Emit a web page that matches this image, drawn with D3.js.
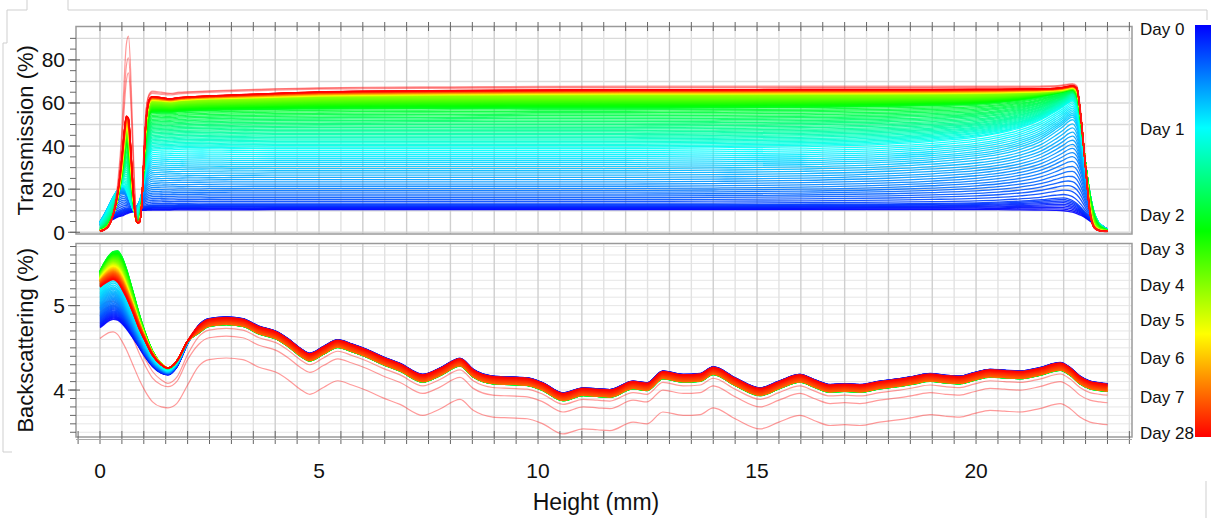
<!DOCTYPE html>
<html>
<head>
<meta charset="utf-8">
<script src="https://cdn.jsdelivr.net/npm/d3@7"></script>
<style>
    body { margin: 0; background: #fff; }
    svg { display: block; font-family: Arial, 'Liberation Sans', sans-serif; }
</style>
</head>
<body>
<div id="chart"></div>
<script>
// ---- colour bar (scan order) ----
const dayLabels = ['Day 0', 'Day 1', 'Day 2', 'Day 3', 'Day 4', 'Day 5', 'Day 6', 'Day 7', 'Day 28'];
const dayTickPos = [0.009, 0.252, 0.461, 0.544, 0.631, 0.716, 0.809, 0.902, 0.99];
const scanCount = 140;

// ---- transmission (%) vs height (mm) ----
const heightsT = [0, 0.1, 0.2, 0.3, 0.4, 0.5, 0.55, 0.6, 0.65, 0.7, 0.75, 0.8, 0.85, 0.9, 0.95, 1.0, 1.05, 1.1, 1.15, 1.2,
    1.4, 1.6, 1.8, 2.0, 2.5, 3, 4, 5, 6, 8, 10, 12, 14, 16, 18, 19, 20, 20.5, 21, 21.5, 21.8,
    22.0, 22.1, 22.2, 22.3, 22.4, 22.5, 22.6, 22.7, 22.8, 22.9, 23.0];

// key scans, position on the colour bar
const keyFracT = [0, 0.06, 0.12, 0.19, 0.26, 0.35, 0.46, 0.65, 1];
const trans0 = [3, 4, 5, 6, 7, 7.6, 8, 8.5, 8.9, 9.2, 9.5, 9.7, 9.9, 10, 10.1, 10.2, 10.2, 10.3, 10.3, 10.3,
    10.3, 10.3, 10.4, 10.4, 10.4, 10.4, 10.5, 10.5, 10.5, 10.5, 10.5, 10.5, 10.5, 10.5, 10.5, 10.5, 10.5, 10.5, 10.4, 10.3, 10.2,
    10, 9.7, 9.3, 8.7, 7.8, 6.6, 5.2, 3.9, 2.8, 1.8, 1.0];
const trans1 = [3.5, 5, 6.5, 8, 9.5, 10.5, 11, 11.3, 11.3, 11.1, 11, 11, 11.2, 11.5, 11.8, 12.1, 12.3, 12.5, 12.6, 12.7,
    12.8, 12.8, 12.9, 12.9, 13, 13, 13, 13, 13, 13, 13, 13, 13, 13.1, 13.3, 13.5, 13.8, 14.1, 14.6, 15.3, 16,
    16.2, 15.8, 15, 13.5, 11.5, 9.2, 7, 5, 3.4, 2.2, 1.2];
const trans2 = [4.5, 7.5, 10.5, 13.5, 16.5, 18, 18, 17, 15.5, 13.8, 12.5, 12, 12.5, 13.8, 15.5, 17, 18.2, 19, 19.3, 19.5,
    19.6, 19.7, 19.8, 19.8, 19.9, 20, 20, 20, 20, 20, 20, 20, 20.2, 20.6, 21.5, 22.3, 23.5, 24.5, 26, 28.5, 31,
    33, 34, 34.5, 33, 28, 20, 13, 7.5, 4.5, 2.8, 1.5];
const trans3 = [5, 8.5, 12.5, 16.5, 19.5, 21, 20.5, 19, 16.5, 14, 12, 11.2, 12, 14.5, 18, 22, 25.5, 27.5, 28.5, 29,
    29.3, 29.5, 29.6, 29.7, 29.8, 29.9, 30, 30, 30, 30, 30, 30, 30.3, 30.8, 32, 33.2, 35, 36.5, 39, 43, 47,
    50, 52, 53, 50, 40, 27, 16, 8.5, 4.5, 2.6, 1.4];
const trans4 = [4, 7, 11, 15.5, 19.5, 21.5, 21.5, 20, 17, 13.5, 10.5, 9, 9.5, 12, 17, 24, 30, 34.5, 37, 38,
    38.3, 38.4, 38.6, 38.7, 38.8, 38.9, 39, 39, 39, 39, 39, 39, 39.3, 39.8, 41, 42.3, 44.3, 46, 48.5, 52.5, 56,
    58.5, 60, 61, 58, 46, 31, 18, 9, 4.5, 2.4, 1.2];
const trans5 = [2, 4, 7, 11, 17, 25, 29, 31, 29, 22, 14, 8.5, 6.5, 8, 15, 26, 36, 42, 45, 46,
    46.2, 46.3, 46.5, 46.6, 46.7, 46.8, 47, 47, 47, 47, 47, 47, 47.2, 47.6, 48.5, 49.3, 50.7, 52, 54, 57, 60,
    62, 63.5, 64.5, 62, 49, 32, 18, 8.5, 4, 2.2, 1.1];
const trans6 = [1, 2, 4, 8, 15, 27, 35, 40, 38, 28, 16, 8, 5, 6, 14, 30, 44, 52, 55, 55.5,
    55.7, 55.6, 56, 56.2, 56.5, 56.7, 57, 57.2, 57.3, 57.4, 57.5, 57.5, 57.6, 57.8, 58.3, 58.8, 59.4, 60.2, 61.3, 63, 64.3,
    65.2, 65.8, 66, 63.5, 50, 32, 17, 7.5, 3.2, 1.8, 1];
const trans7 = [0.8, 1.5, 3.5, 8, 16, 30, 40, 47, 45, 33, 18, 8, 4.5, 5, 13, 32, 50, 58, 60.5, 61,
    60.8, 60.5, 61, 61.3, 61.8, 62, 62.5, 63, 63.2, 63.5, 63.7, 63.8, 63.8, 63.9, 64, 64.1, 64.3, 64.5, 64.8, 65.2, 65.6,
    66, 66.5, 67, 65.5, 52, 31, 12, 3.5, 1.4, 0.8, 0.6];
const trans8 = [0.5, 1.2, 3, 8, 18, 35, 46, 54, 53, 40, 22, 9, 4.5, 4.5, 12, 33, 52, 60, 62.5, 63,
    62.5, 62, 62.5, 62.8, 63.3, 63.7, 64.5, 65.2, 65.5, 65.8, 66, 66.2, 66.2, 66.3, 66.3, 66.3, 66.4, 66.4, 66.5, 66.6, 66.8,
    67.3, 67.7, 68, 67, 52, 30, 9, 2, 0.8, 0.5, 0.4];

// the three pale red scans that stand apart
const transOut1 = [0.3, 1, 3, 9, 22, 48, 70, 87, 91, 75, 45, 18, 6, 5, 14, 38, 57, 63, 65, 65.5,
    65, 64.5, 65, 65.2, 65.6, 66, 66.6, 67, 67.3, 67.5, 67.7, 67.8, 67.8, 67.8, 67.8, 67.8, 67.8, 67.8, 67.8, 67.9, 68,
    68.5, 68.8, 69, 68, 54, 31, 10, 2.2, 0.8, 0.4, 0.3];
const transOut2 = [0.3, 1, 3, 8.5, 20, 44, 62, 77, 81, 67, 40, 16, 5.5, 5, 14, 37, 56, 62.5, 64.5, 65,
    64.6, 64.2, 64.7, 65, 65.4, 65.8, 66.4, 66.8, 67, 67.2, 67.3, 67.4, 67.4, 67.4, 67.4, 67.4, 67.5, 67.5, 67.5, 67.6, 67.8,
    68.2, 68.5, 68.7, 67.6, 53, 30, 9.5, 2, 0.8, 0.4, 0.3];
const transOut3 = [0.4, 1.1, 3.2, 8.5, 19, 40, 56, 70, 74, 61, 36, 14, 5, 4.8, 13, 36, 55, 62, 64, 64.5,
    64, 63.7, 64.2, 64.5, 64.9, 65.3, 66, 66.4, 66.6, 66.8, 67, 67, 67, 67.1, 67.1, 67.1, 67.2, 67.2, 67.2, 67.3, 67.5,
    68, 68.3, 68.5, 67.3, 52.5, 29.5, 9, 2, 0.8, 0.4, 0.3];

// ---- backscattering (%) vs height (mm) ----
const heightsB = [0, 0.1, 0.2, 0.3, 0.4, 0.5, 0.6, 0.75, 0.9, 1.05, 1.2, 1.4, 1.55, 1.75, 2.0,
    2.25, 2.49, 2.88, 3.26, 3.63, 4.02, 4.3, 4.57, 4.79, 5.1, 5.43, 5.75, 6.09, 6.45, 6.85, 7.37, 7.76, 8.22, 8.52, 8.97,
    9.35, 9.75, 10.11, 10.57, 11.03, 11.35, 11.64, 12.17, 12.49, 12.85, 13.31, 13.70, 14.0, 14.5, 15.07, 15.5, 15.98,
    16.3, 16.67, 17.0, 17.35, 17.8, 18.26, 18.6, 18.95, 19.3, 19.63, 19.95, 20.32, 20.65, 21.0, 21.45, 21.92, 22.15,
    22.37, 22.6, 22.83, 23.0];
// common band
const backMain = [5.24, 5.28, 5.31, 5.33, 5.30, 5.22, 5.12, 4.94, 4.74, 4.57, 4.42, 4.30, 4.26, 4.34, 4.58,
    4.72, 4.80, 4.82, 4.80, 4.71, 4.65, 4.56, 4.45, 4.39, 4.47, 4.55, 4.50, 4.435, 4.35, 4.27, 4.14, 4.215, 4.33, 4.20, 4.12,
    4.11, 4.10, 4.04, 3.92, 3.98, 3.97, 3.96, 4.06, 4.04, 4.18, 4.14, 4.15, 4.23, 4.10, 3.98, 4.06, 4.14,
    4.08, 4.02, 4.03, 4.02, 4.06, 4.09, 4.12, 4.15, 4.13, 4.12, 4.16, 4.20, 4.19, 4.18, 4.22, 4.28, 4.22,
    4.12, 4.06, 4.04, 4.03];
// bottom of the tube (0 - 2 mm), where the scans fan out
const keyFracB = [0, 0.1, 0.2, 0.3, 0.45, 0.65, 0.9, 1];
const backBottom0 = [4.74, 4.78, 4.82, 4.84, 4.83, 4.79, 4.73, 4.62, 4.50, 4.38, 4.28, 4.20, 4.18, 4.27, 4.55];
const backBottom1 = [4.90, 4.95, 4.99, 5.01, 4.99, 4.94, 4.86, 4.72, 4.57, 4.43, 4.32, 4.23, 4.20, 4.29, 4.56];
const backBottom2 = [5.10, 5.16, 5.20, 5.22, 5.19, 5.12, 5.01, 4.84, 4.66, 4.50, 4.36, 4.26, 4.22, 4.31, 4.57];
const backBottom3 = [5.32, 5.40, 5.47, 5.52, 5.52, 5.45, 5.32, 5.08, 4.83, 4.62, 4.44, 4.30, 4.25, 4.33, 4.57];
const backBottom4 = [5.41, 5.51, 5.59, 5.64, 5.65, 5.58, 5.44, 5.17, 4.89, 4.65, 4.46, 4.31, 4.26, 4.34, 4.58];
const backBottom5 = [5.34, 5.42, 5.48, 5.51, 5.49, 5.41, 5.28, 5.05, 4.81, 4.61, 4.44, 4.31, 4.26, 4.34, 4.58];
const backBottom6 = [5.28, 5.33, 5.37, 5.39, 5.36, 5.28, 5.17, 4.98, 4.77, 4.59, 4.43, 4.30, 4.26, 4.34, 4.58];
const backBottom7 = [5.22, 5.26, 5.29, 5.31, 5.28, 5.20, 5.10, 4.92, 4.72, 4.56, 4.41, 4.30, 4.26, 4.34, 4.58];
// shift of each key scan from the common band above 2 mm
const backShift = [0.045, 0.03, 0.0, -0.03, -0.045, 0.0, -0.04, 0.04];

const backOutBottom1 = [5.00, 5.03, 5.05, 5.05, 5.02, 4.95, 4.85, 4.68, 4.50, 4.35, 4.22, 4.12, 4.08, 4.15, 4.42];
const backOutBottom2 = [4.92, 4.96, 4.99, 5.00, 4.97, 4.90, 4.80, 4.62, 4.43, 4.27, 4.14, 4.06, 4.04, 4.10, 4.36];
const backOutBottom3 = [4.61, 4.65, 4.68, 4.69, 4.66, 4.58, 4.48, 4.30, 4.12, 3.97, 3.86, 3.80, 3.79, 3.84, 4.06];
const backOutShift = [-0.09, -0.18, -0.44];

// ---- chart ----
const width = 1211, height = 518;

const svg = d3.select('#chart')
    .append('svg')
    .attr('width', width)
    .attr('height', height)
    .attr('viewBox', `0 0 ${width} ${height}`);

const x = d3.scaleLinear().domain([-0.548, 23.56]).range([76, 1132]);
const yT = d3.scaleLinear().domain([-0.8, 95.5]).range([234, 26.5]);
const yB = d3.scaleLinear().domain([3.444, 5.736]).range([437, 243.5]);
const hue = d3.scaleLinear().domain([0, 1]).range([240, 0]);
const colour = f => d3.hsl(hue(f), 1, 0.5).formatHex();

const panels = [
    { id: 'clip-t', y: yT },
    { id: 'clip-b', y: yB }
];

const defs = svg.append('defs');
panels.forEach(p => {
    defs.append('clipPath').attr('id', p.id)
        .append('rect')
        .attr('x', x.range()[0]).attr('y', p.y.range()[1])
        .attr('width', x.range()[1] - x.range()[0])
        .attr('height', p.y.range()[0] - p.y.range()[1]);
});

// page furniture (faint borders round the figure)
svg.append('path')
    .attr('d', 'M27,0V10H7V43H3V452H12M68,0V10H1207V20M1206,481V518')
    .attr('fill', 'none')
    .attr('stroke', '#cfcfcf')
    .attr('stroke-width', 1);

// grid
const xGrid = d3.range(0, 23.6, 0.5);
panels.forEach((p, pi) => {
    const g = svg.append('g').attr('class', 'grid');
    const yTicks = pi === 0 ? d3.range(0, 95, 10) : d3.range(3.5, 5.75, 0.1);
    g.selectAll('line.h')
        .data(yTicks)
        .join('line')
        .attr('x1', x.range()[0]).attr('x2', x.range()[1])
        .attr('y1', d => p.y(d)).attr('y2', d => p.y(d))
        .attr('stroke', pi === 0 ? '#d9d9d9' : '#e6e6e6')
        .attr('stroke-width', pi === 0 ? 1.4 : 1);
    g.selectAll('line.v')
        .data(xGrid)
        .join('line')
        .attr('x1', d => x(d)).attr('x2', d => x(d))
        .attr('y1', p.y.range()[0]).attr('y2', p.y.range()[1])
        .attr('stroke', d => Number.isInteger(d) ? '#cfcfcf' : '#e2e2e2')
        .attr('stroke-width', 1.4);
});

const scans = d3.range(scanCount).map(i => i / (scanCount - 1));

// transmission scans
const transAt = d3.scaleLinear()
    .domain(keyFracT)
    .range([trans0, trans1, trans2, trans3, trans4, trans5, trans6, trans7, trans8]);

const lineT = d3.line()
    .x((d, i) => x(heightsT[i]))
    .y(d => yT(d))
    .curve(d3.curveMonotoneX);

const gT = svg.append('g').attr('clip-path', 'url(#clip-t)');
gT.selectAll('path.scan')
    .data(scans)
    .join('path')
    .attr('class', 'scan')
    .attr('d', f => lineT(transAt(f)))
    .attr('fill', 'none')
    .attr('stroke', f => colour(f))
    .attr('stroke-width', 1.3)
    .attr('stroke-opacity', 0.9);

gT.selectAll('path.out')
    .data([transOut1, transOut2, transOut3])
    .join('path')
    .attr('class', 'out')
    .attr('d', lineT)
    .attr('fill', 'none')
    .attr('stroke', '#ff2020')
    .attr('stroke-width', 1.2)
    .attr('stroke-opacity', 0.45);

// backscattering scans
const bottomKeys = [backBottom0, backBottom1, backBottom2, backBottom3, backBottom4, backBottom5, backBottom6, backBottom7];
const withBand = (bottom, shift) => heightsB.map((h, i) => i < bottom.length ? bottom[i] : backMain[i] + shift);

const backAt = d3.scaleLinear()
    .domain(keyFracB)
    .range(bottomKeys.map((b, k) => withBand(b, backShift[k])));

const lineB = d3.line()
    .x((d, i) => x(heightsB[i]))
    .y(d => yB(d))
    .curve(d3.curveMonotoneX);

const gB = svg.append('g').attr('clip-path', 'url(#clip-b)');
gB.selectAll('path.out')
    .data([backOutBottom1, backOutBottom2, backOutBottom3].map((b, k) => withBand(b, backOutShift[k])))
    .join('path')
    .attr('class', 'out')
    .attr('d', lineB)
    .attr('fill', 'none')
    .attr('stroke', '#ff2020')
    .attr('stroke-width', 1.2)
    .attr('stroke-opacity', 0.45);

gB.selectAll('path.scan')
    .data(scans)
    .join('path')
    .attr('class', 'scan')
    .attr('d', f => lineB(backAt(f)))
    .attr('fill', 'none')
    .attr('stroke', f => colour(f))
    .attr('stroke-width', 1.5)
    .attr('stroke-opacity', 0.9);

// frames
panels.forEach(p => {
    svg.append('rect')
        .attr('x', x.range()[0]).attr('y', p.y.range()[1])
        .attr('width', x.range()[1] - x.range()[0])
        .attr('height', p.y.range()[0] - p.y.range()[1])
        .attr('fill', 'none')
        .attr('stroke', '#9a9a9a')
        .attr('stroke-width', 1.5);
});

const tickColour = '#666';

// top edge ticks of the upper panel
svg.append('g')
    .selectAll('line')
    .data(xGrid)
    .join('line')
    .attr('x1', d => x(d)).attr('x2', d => x(d))
    .attr('y1', yT.range()[1] - 4.5).attr('y2', yT.range()[1] + 4.5)
    .attr('stroke', tickColour);

// bottom axis
const xAxis = svg.append('g');
xAxis.selectAll('line')
    .data(d3.range(-0.5, 23.6, 0.5))
    .join('line')
    .attr('x1', d => x(d)).attr('x2', d => x(d))
    .attr('y1', yB.range()[0] - 6).attr('y2', yB.range()[0] + 7)
    .attr('stroke', tickColour);
xAxis.append('line')
    .attr('x1', x.range()[0]).attr('x2', x.range()[1])
    .attr('y1', yB.range()[0] + 2.5).attr('y2', yB.range()[0] + 2.5)
    .attr('stroke', '#aaa');
xAxis.selectAll('text')
    .data([0, 5, 10, 15, 20])
    .join('text')
    .attr('x', d => x(d))
    .attr('y', yB.range()[0] + 41)
    .attr('text-anchor', 'middle')
    .attr('font-size', 21)
    .attr('fill', '#111')
    .text(d => d);

svg.append('text')
    .attr('x', 596)
    .attr('y', 510)
    .attr('text-anchor', 'middle')
    .attr('font-size', 23)
    .attr('fill', '#111')
    .text('Height (mm)');

// left axes
function leftAxis(scale, minor, major, labels) {
    const g = svg.append('g');
    const x0 = x.range()[0];
    g.selectAll('line.minor')
        .data(minor)
        .join('line')
        .attr('x1', x0 - 6).attr('x2', x0)
        .attr('y1', d => scale(d)).attr('y2', d => scale(d))
        .attr('stroke', tickColour);
    g.selectAll('line.major')
        .data(major)
        .join('line')
        .attr('x1', x0 - 8).attr('x2', x0 + 4)
        .attr('y1', d => scale(d)).attr('y2', d => scale(d))
        .attr('stroke', tickColour);
    g.selectAll('text')
        .data(labels)
        .join('text')
        .attr('x', x0 - 11)
        .attr('y', d => scale(d) + 7.5)
        .attr('text-anchor', 'end')
        .attr('font-size', 21)
        .attr('fill', '#111')
        .text(d => d);
}
leftAxis(yT, d3.range(0, 95, 5), d3.range(0, 95, 20), [0, 20, 40, 60, 80]);
leftAxis(yB, d3.range(3.5, 5.75, 0.1), [4, 5], [4, 5]);

[['Transmission (%)', yT], ['Backscattering (%)', yB]].forEach(([label, scale]) => {
    const cy = (scale.range()[0] + scale.range()[1]) / 2;
    svg.append('text')
        .attr('transform', `translate(33,${cy}) rotate(-90)`)
        .attr('text-anchor', 'middle')
        .attr('font-size', 22)
        .attr('fill', '#111')
        .text(label);
});

// colour bar
const bar = d3.scaleLinear().domain([0, 1]).range([25, 437]);
const gradient = defs.append('linearGradient')
    .attr('id', 'scan-gradient')
    .attr('x1', '0%').attr('x2', '0%')
    .attr('y1', '0%').attr('y2', '100%');
gradient.selectAll('stop')
    .data(d3.range(0, 1.001, 0.05))
    .join('stop')
    .attr('offset', d => `${d * 100}%`)
    .attr('stop-color', d => colour(d));

svg.append('rect')
    .attr('x', 1195)
    .attr('y', bar(0))
    .attr('width', 16)
    .attr('height', bar(1) - bar(0))
    .attr('fill', 'url(#scan-gradient)');

svg.append('g')
    .selectAll('text')
    .data(dayLabels)
    .join('text')
    .attr('x', 1140)
    .attr('y', (d, i) => bar(dayTickPos[i]) + 6)
    .attr('font-size', 17)
    .attr('fill', '#111')
    .text(d => d);
</script>
</body>
</html>
